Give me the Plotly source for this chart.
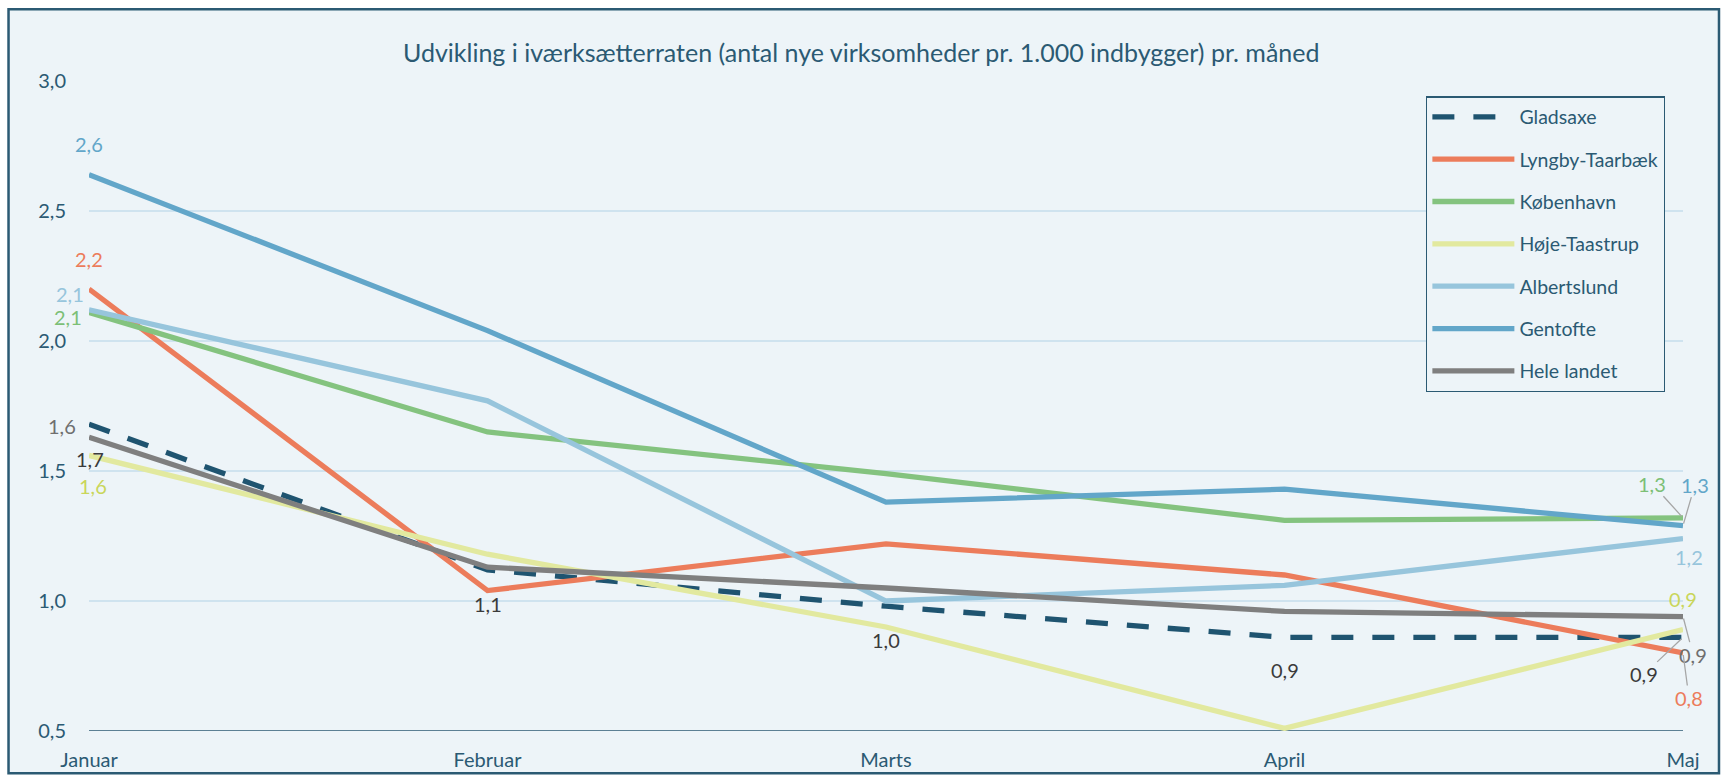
import plotly.graph_objects as go

months = ["Januar", "Februar", "Marts", "April", "Maj"]

gladsaxe = [1.68, 1.12, 0.98, 0.86, 0.86]
lyngby = [2.20, 1.04, 1.22, 1.10, 0.80]
kobenhavn = [2.11, 1.65, 1.49, 1.31, 1.32]
hoje_taastrup = [1.56, 1.18, 0.90, 0.51, 0.89]
albertslund = [2.12, 1.77, 1.00, 1.06, 1.24]
gentofte = [2.64, 2.04, 1.38, 1.43, 1.29]
hele_landet = [1.63, 1.13, 1.05, 0.96, 0.94]

y_ticks = [0.5, 1.0, 1.5, 2.0, 2.5, 3.0]

title_text = "Udvikling i iværksætterraten (antal nye virksomheder pr. 1.000 indbygger) pr. måned"

FONT = "Lato, 'Open Sans', sans-serif"
DARK = "#2b5a73"
BG = "#edf4f8"
GRID = "#cfe3ef"

series = [
    ("Gladsaxe", gladsaxe, "#1f5470", "22px,19px", "#3b3b3b"),
    ("Lyngby-Taarbæk", lyngby, "#ec7c5b", "solid", "#ec7c5b"),
    ("København", kobenhavn, "#84c37f", "solid", "#7cbf76"),
    ("Høje-Taastrup", hoje_taastrup, "#e2e99f", "solid", "#c9d65a"),
    ("Albertslund", albertslund, "#97c5dc", "solid", "#97c5dc"),
    ("Gentofte", gentofte, "#62a6c9", "solid", "#62a6c9"),
    ("Hele landet", hele_landet, "#7f7f7f", "solid", "#6f6f6f"),
]

fig = go.Figure()
for name, vals, col, dash, lcol in series:
    fig.add_trace(go.Scatter(
        x=months, y=vals, name=name, mode="lines",
        line=dict(color=col, width=5.3, dash=dash),
        legendgroup=name, hoverinfo="x+y+name",
    ))

def fmt(v):
    return f"{v:.1f}".replace(".", ",")

# label placement: (series index, month index, dx, dy(up positive), leader?)
label_pos = [
    (5, 0, 0, 31, False),
    (1, 0, 0, 30, False),
    (4, 0, -19, 16, False),
    (2, 0, -21, -5, False),
    (6, 0, -27, 11, False),
    (0, 0, 1, -35, False),
    (3, 0, 4, -31, False),
    (0, 1, 0, -34, False),
    (0, 2, 0, -34, False),
    (0, 3, 0, -33, False),
    (2, 4, -31, 34, True),
    (5, 4, 12, 41, True),
    (4, 4, 6, -18, False),
    (3, 4, 0, 31, False),
    (6, 4, 10, -38, True),
    (0, 4, -39, -37, True),
    (1, 4, 6, -45, True),
]

annotations = []
for si, mi, dx, dy, leader in label_pos:
    name, vals, col, dash, lcol = series[si]
    a = dict(x=months[mi], y=vals[mi], xref="x", yref="y", text=fmt(vals[mi]),
             font=dict(family=FONT, size=20, color=lcol), borderpad=0)
    if leader:
        a.update(showarrow=True, arrowhead=0, arrowwidth=1.3, arrowcolor="#a6a6a6",
                 ax=dx, ay=-dy, standoff=2)
    else:
        a.update(showarrow=False, xshift=dx, yshift=dy)
    annotations.append(a)

# plot area geometry in pixels
L, R, T, B = 88.5, 1683.0, 80.7, 730.7
W, H = 1721, 775
pw, ph = R - L, B - T

def px(xp):
    return (xp - L) / pw

def py(yp):
    return (B - yp) / ph

fig.update_layout(
    width=W, height=H,
    margin=dict(l=L, r=W - R, t=T, b=H - B, pad=0, autoexpand=False),
    paper_bgcolor="white",
    plot_bgcolor="rgba(0,0,0,0)",
    separators=",.",
    font=dict(family=FONT, size=20, color=DARK),
    title=dict(text=title_text, x=px(861), xref="paper", xanchor="center",
               y=1 - 53 / H, yref="container", yanchor="middle",
               font=dict(family=FONT, size=25, color=DARK)),
    showlegend=True,
    legend=dict(x=px(1426), y=py(96), xanchor="left", yanchor="top",
                bgcolor=BG, bordercolor=DARK, borderwidth=1.3,
                font=dict(family=FONT, size=19.5, color=DARK),
                tracegroupgap=14, itemwidth=82,
                traceorder="grouped"),
    annotations=annotations,
    shapes=[dict(type="rect", xref="paper", yref="paper",
                 x0=px(8), x1=px(1719), y0=py(773), y1=py(9),
                 line=dict(color=DARK, width=2.5), fillcolor=BG, layer="below")],
    hovermode="closest",
)

fig.update_xaxes(type="category", range=[0, 4], showgrid=False,
                 showline=False, zeroline=False, automargin=False,
                 ticks="outside", ticklen=11, tickcolor="rgba(0,0,0,0)",
                 tickfont=dict(family=FONT, size=20, color=DARK))
fig.update_yaxes(range=[0.5, 3.0], tickvals=y_ticks, tickformat=".1f",
                 showgrid=True, gridcolor=GRID, gridwidth=1.5,
                 zeroline=False, showline=False, automargin=False,
                 ticks="outside", ticklen=18, tickcolor="rgba(0,0,0,0)",
                 tickfont=dict(family=FONT, size=20, color=DARK))

# dark baseline at 0.5
fig.add_hline(y=0.5, line=dict(color=DARK, width=1.5), layer="below")

fig.write_html("out.html", config={"displayModeBar": False},
               post_script="document.body.style.margin='0px';document.body.style.overflow='hidden';")
